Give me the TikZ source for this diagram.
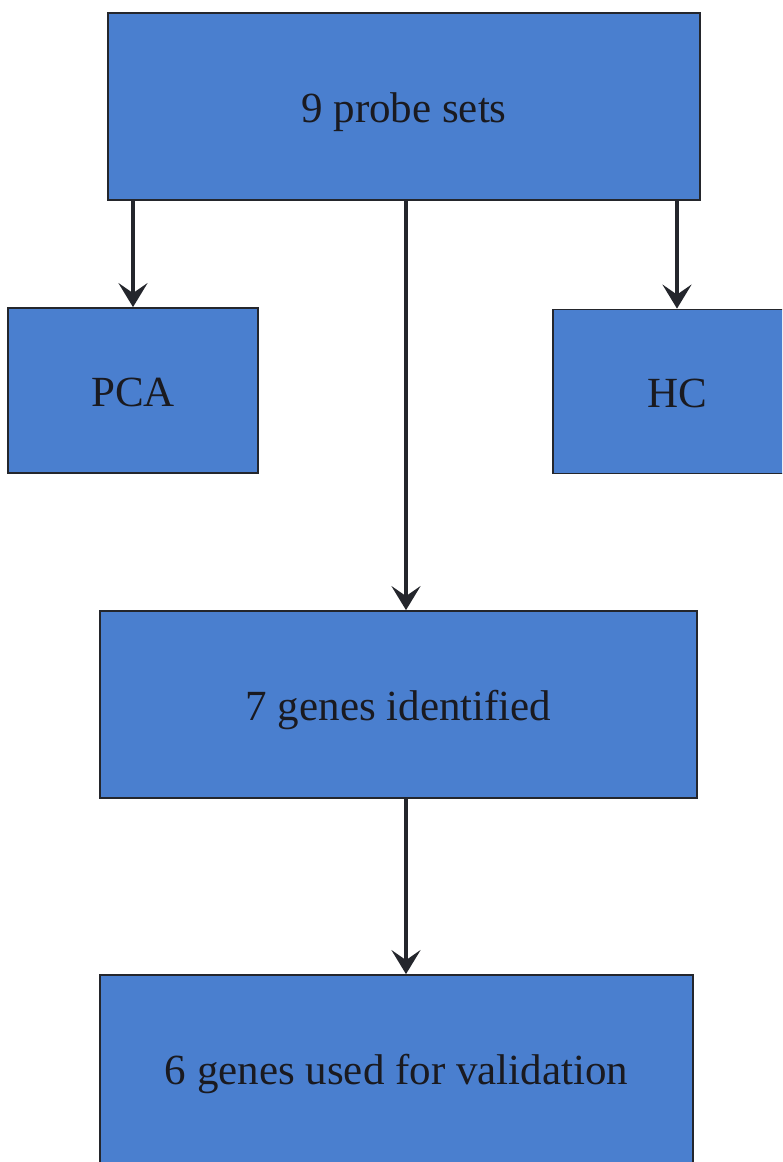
\documentclass[tikz,border=0pt]{standalone}
\usepackage{fontspec}
\setmainfont{Liberation Serif}
\usetikzlibrary{positioning, calc, arrows.meta}
\definecolor{BoxBlue}{HTML}{4A7FCF}
\definecolor{Edge}{HTML}{24262C}
\definecolor{Ink}{HTML}{1A1A20}
\tikzset{
    flowbox/.style={rectangle, fill=BoxBlue, draw=Edge, line width=1.8pt, text=Ink, align=center, font=\fontsize{43}{50}\selectfont, inner sep=0pt, text height=31pt, text depth=0pt},
    arrow/.style={-{Stealth[length=24pt, width=29pt, inset=10pt]}, line width=4.6pt, color=Edge},
}
\begin{document}
\begin{tikzpicture}[x=1pt, y=-1pt]
                \clip (0,0) rectangle (782,1162);
                \fill[white] (0,0) rectangle (782,1162);
                % Nodi
                \node[flowbox, minimum width=592pt, minimum height=187pt] (probes) at (404,106.5) {9 probe sets};
                \node[flowbox, minimum width=250pt, minimum height=165pt] (pca) at (133,390.5) {PCA};
                \node[flowbox, minimum width=248pt, minimum height=164pt] (hc) at (677,391.5) {HC};
                \node[flowbox, minimum width=597pt, minimum height=187pt] (genes) at (398.5,704.5) {7 genes identified};
                \node[flowbox, minimum width=593pt, minimum height=188pt] (valid) at (396.5,1069) {6 genes used for validation};

                % Frecce
                \draw[arrow] (pca.north |- probes.south) -- (pca.north);
                \draw[arrow] (hc.north |- probes.south) -- (hc.north);
                \draw[arrow] ([xshift=2pt]probes.south) -- ([xshift=2pt]probes.south |- genes.north);
                \draw[arrow] ([xshift=7.5pt]genes.south) -- ([xshift=7.5pt]genes.south |- valid.north);
\end{tikzpicture}
\end{document}
